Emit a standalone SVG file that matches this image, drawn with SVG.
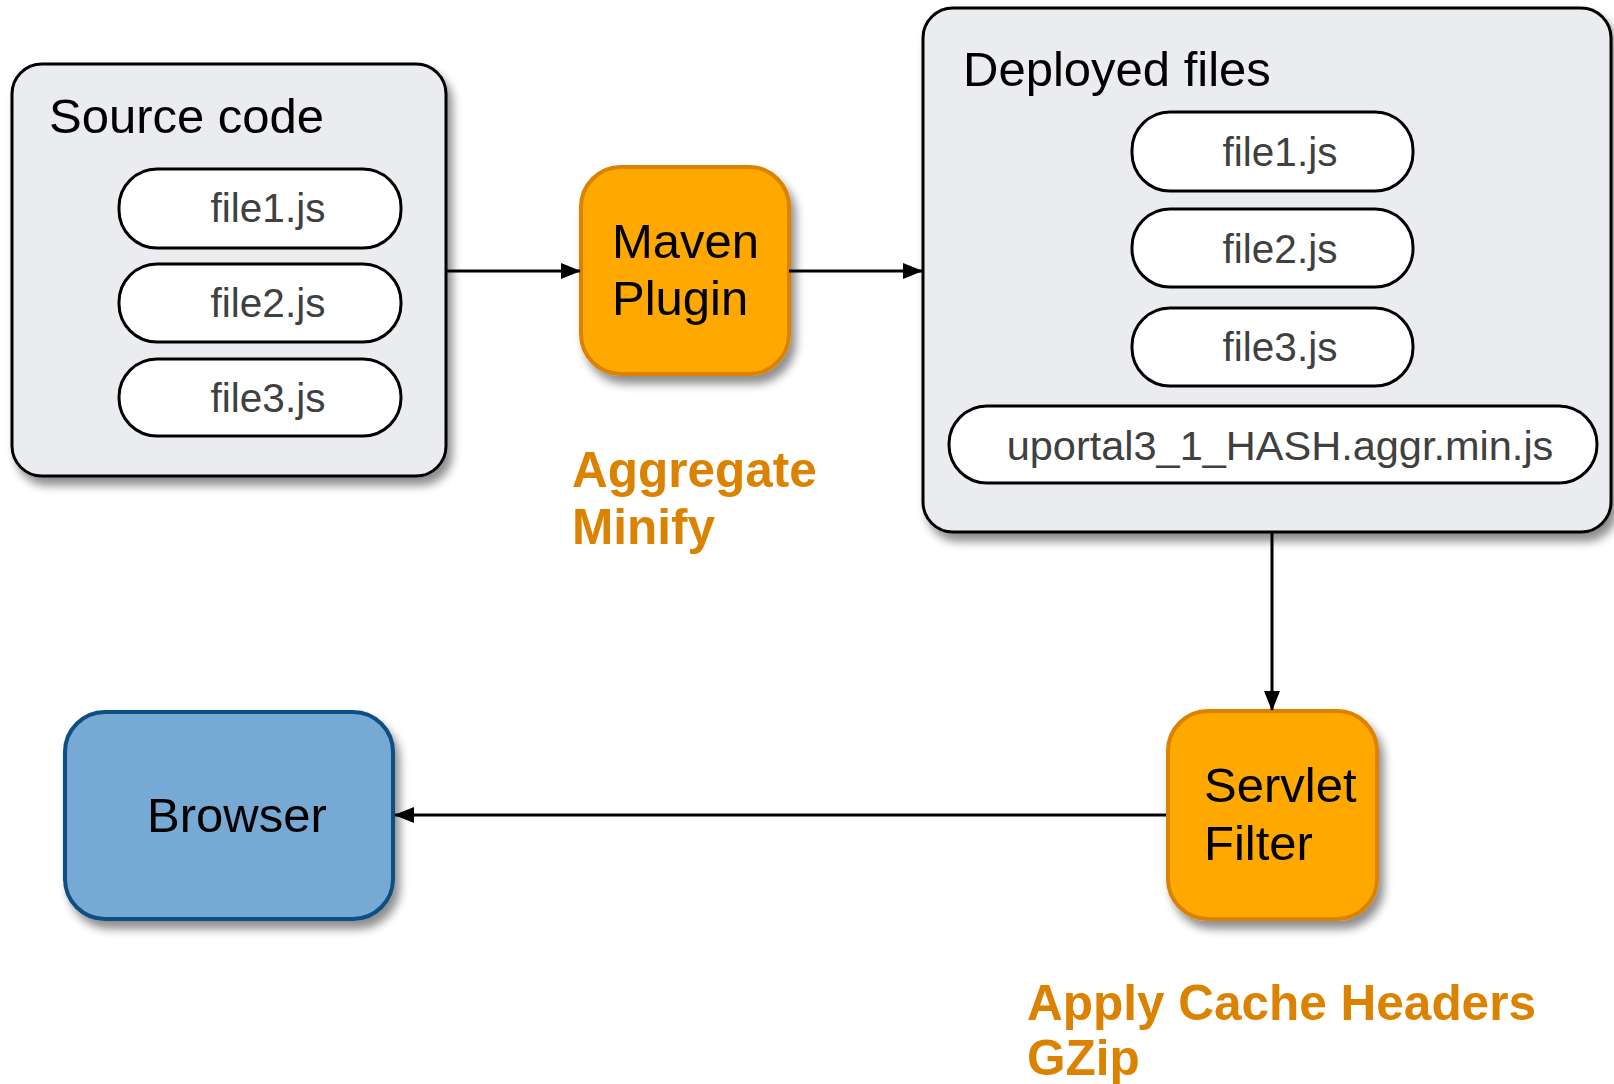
<svg xmlns="http://www.w3.org/2000/svg" width="1614" height="1084" viewBox="0 0 1614 1084">
<defs>
<filter id="sh" x="-10%" y="-10%" width="130%" height="130%">
<feGaussianBlur in="SourceAlpha" stdDeviation="5"/>
<feOffset dx="5" dy="8" result="b"/>
<feComponentTransfer><feFuncA type="linear" slope="0.45"/></feComponentTransfer>
<feMerge><feMergeNode/><feMergeNode in="SourceGraphic"/></feMerge>
</filter>
<marker id="ah" markerWidth="20" markerHeight="16" refX="19" refY="8" orient="auto" markerUnits="userSpaceOnUse">
<path d="M0,0 L20,8 L0,16 Z" fill="#000"/>
</marker>
<style>
.cont{fill:#EBECF0;stroke:#000;stroke-width:3}
.pill{fill:#fff;stroke:#000;stroke-width:3}
.orange{fill:#FFA800;stroke:#DB8200;stroke-width:4}
.blue{fill:#77A9D5;stroke:#104F82;stroke-width:4}
.title{font-family:"Liberation Sans",Arial,sans-serif;font-size:49px;fill:#000}
.ftxt{font-family:"Liberation Sans",Arial,sans-serif;font-size:40.5px;fill:#404040;text-anchor:middle}
.ntxt{font-family:"Liberation Sans",Arial,sans-serif;font-size:49px;fill:#000}
.lbl{font-family:"Liberation Sans",Arial,sans-serif;font-size:49.5px;font-weight:bold;fill:#DB8200}
.conn{stroke:#000;stroke-width:3;fill:none;marker-end:url(#ah)}
</style>
</defs>
<rect width="1614" height="1084" fill="#fff"/>
<g id="source-code">
<rect class="cont" x="12" y="64" width="434" height="412" rx="30" filter="url(#sh)"/>
<text class="title" x="49" y="133">Source code</text>
<rect class="pill" x="119" y="169" width="282" height="79" rx="38"/>
<text class="ftxt" x="268" y="222">file1.js</text>
<rect class="pill" x="119" y="264" width="282" height="78" rx="38"/>
<text class="ftxt" x="268" y="317">file2.js</text>
<rect class="pill" x="119" y="359" width="282" height="77" rx="38"/>
<text class="ftxt" x="268" y="412">file3.js</text>
</g>
<g id="maven-plugin">
<rect class="orange" x="581" y="167" width="208" height="207" rx="40" filter="url(#sh)"/>
<text class="ntxt" x="612" y="258">Maven</text>
<text class="ntxt" x="612" y="315">Plugin</text>
</g>
<g id="label-aggregate">
<text class="lbl" x="572" y="487">Aggregate</text>
<text class="lbl" x="572" y="544">Minify</text>
</g>
<g id="deployed-files">
<rect class="cont" x="923" y="8" width="688" height="524" rx="30" filter="url(#sh)"/>
<text class="title" x="963" y="86">Deployed files</text>
<rect class="pill" x="1132" y="112" width="281" height="79" rx="38"/>
<text class="ftxt" x="1280" y="166">file1.js</text>
<rect class="pill" x="1132" y="209" width="281" height="78" rx="38"/>
<text class="ftxt" x="1280" y="263">file2.js</text>
<rect class="pill" x="1132" y="308" width="281" height="78" rx="38"/>
<text class="ftxt" x="1280" y="361">file3.js</text>
<rect class="pill" x="949" y="406" width="648" height="77" rx="38"/>
<text class="ftxt" x="1280" y="460" style="font-size:41.5px">uportal3_1_HASH.aggr.min.js</text>
</g>
<g id="servlet-filter">
<rect class="orange" x="1168" y="711" width="209" height="208" rx="40" filter="url(#sh)"/>
<text class="ntxt" x="1204" y="802">Servlet</text>
<text class="ntxt" x="1204" y="860">Filter</text>
</g>
<g id="label-cache">
<text class="lbl" x="1027" y="1020">Apply Cache Headers</text>
<text class="lbl" x="1027" y="1075">GZip</text>
</g>
<g id="browser">
<rect class="blue" x="65" y="712" width="328" height="207" rx="40" filter="url(#sh)"/>
<text class="ntxt" x="147" y="832">Browser</text>
</g>
<g id="connectors">
<line class="conn" x1="446" y1="271" x2="580" y2="271"/>
<line class="conn" x1="789" y1="271" x2="922" y2="271"/>
<line class="conn" x1="1272" y1="533" x2="1272" y2="710"/>
<line class="conn" x1="1166" y1="815" x2="395" y2="815"/>
</g>
</svg>
